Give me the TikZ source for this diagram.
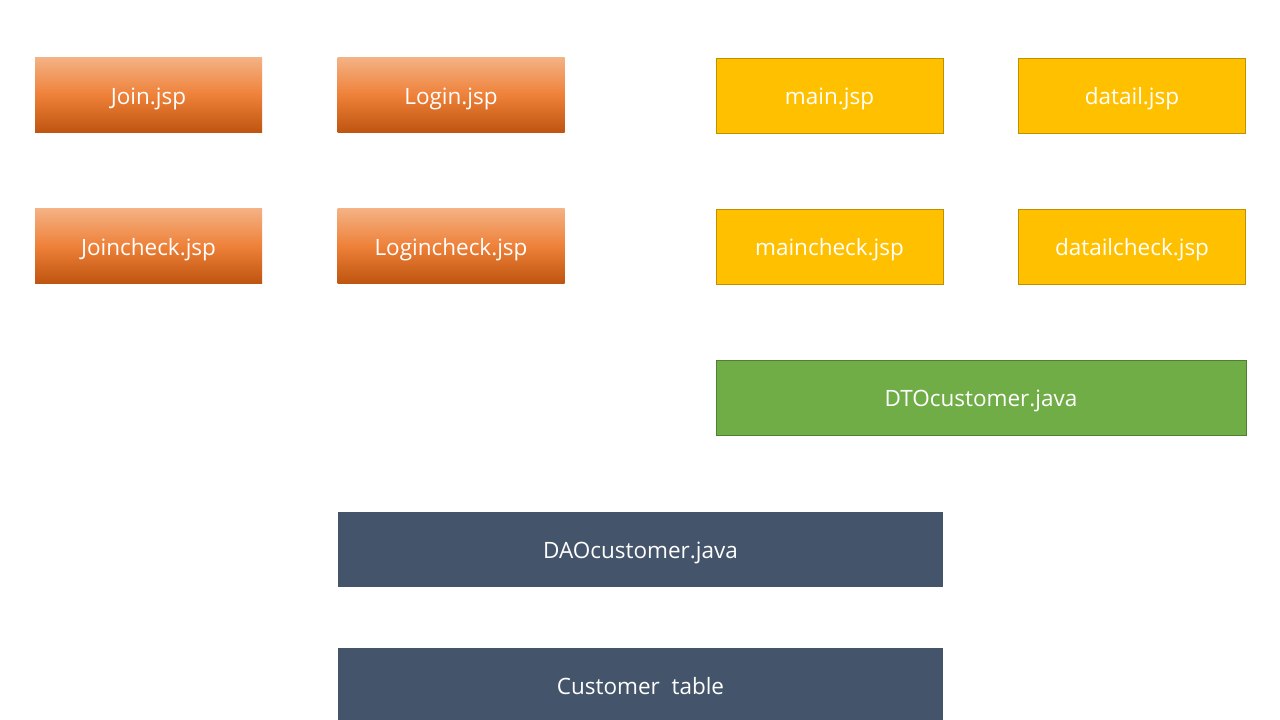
\documentclass[tikz,border=0pt]{standalone}
\usepackage{fontspec}
\setmainfont{Open Sans}
\definecolor{orangetop}{HTML}{F4B183}
\definecolor{orangemid}{HTML}{EE8038}
\definecolor{orangebot}{HTML}{BD540F}
\definecolor{jspyellow}{HTML}{FFC000}
\definecolor{jspyellowline}{HTML}{BF9000}
\definecolor{dtogreen}{HTML}{70AD47}
\definecolor{dtogreenline}{HTML}{507E32}
\definecolor{daoslate}{HTML}{44546A}
\tikzset{
    box/.style={rectangle, inner sep=0pt, text=white, font=\fontsize{16}{20}\selectfont,
        text height=13pt, text depth=0pt, minimum height={75*0.025cm}},
    userbox/.style={box, top color=orangetop, bottom color=orangebot, middle color=orangemid,
        minimum width={227*0.025cm}},
    pagebox/.style={box, fill=jspyellow, draw=jspyellowline, line width=0.6pt,
        minimum width={227*0.025cm}},
    dtobox/.style={box, fill=dtogreen, draw=dtogreenline, line width=0.6pt,
        minimum width={530*0.025cm}},
    daobox/.style={box, fill=daoslate, minimum width={605*0.025cm}},
}
\begin{document}
\begin{tikzpicture}[x=0.025cm, y=-0.025cm]
\useasboundingbox (0,0) rectangle (1280,720);

\node[userbox] (join) at (148.5,95.5) {Join.jsp};
\node[userbox] (login) at (451,95.5) {Login.jsp};
\node[userbox] (joincheck) at (148.5,246.5) {Joincheck.jsp};
\node[userbox] (logincheck) at (451,246.5) {Logincheck.jsp};

\node[pagebox] (main) at (829.5,95.5) {main.jsp};
\node[pagebox] (datail) at (1132,95.5) {datail.jsp};
\node[pagebox] (maincheck) at (829.5,246.5) {maincheck.jsp};
\node[pagebox] (datailcheck) at (1132,246.5) {datailcheck.jsp};

\node[dtobox] (dto) at (981,397.5) {DTOcustomer.java};

\node[daobox] (dao) at (640.5,549) {DAOcustomer.java};
\node[daobox] (table) at (640.5,685) {Customer\ \ table};
\end{tikzpicture}
\end{document}
